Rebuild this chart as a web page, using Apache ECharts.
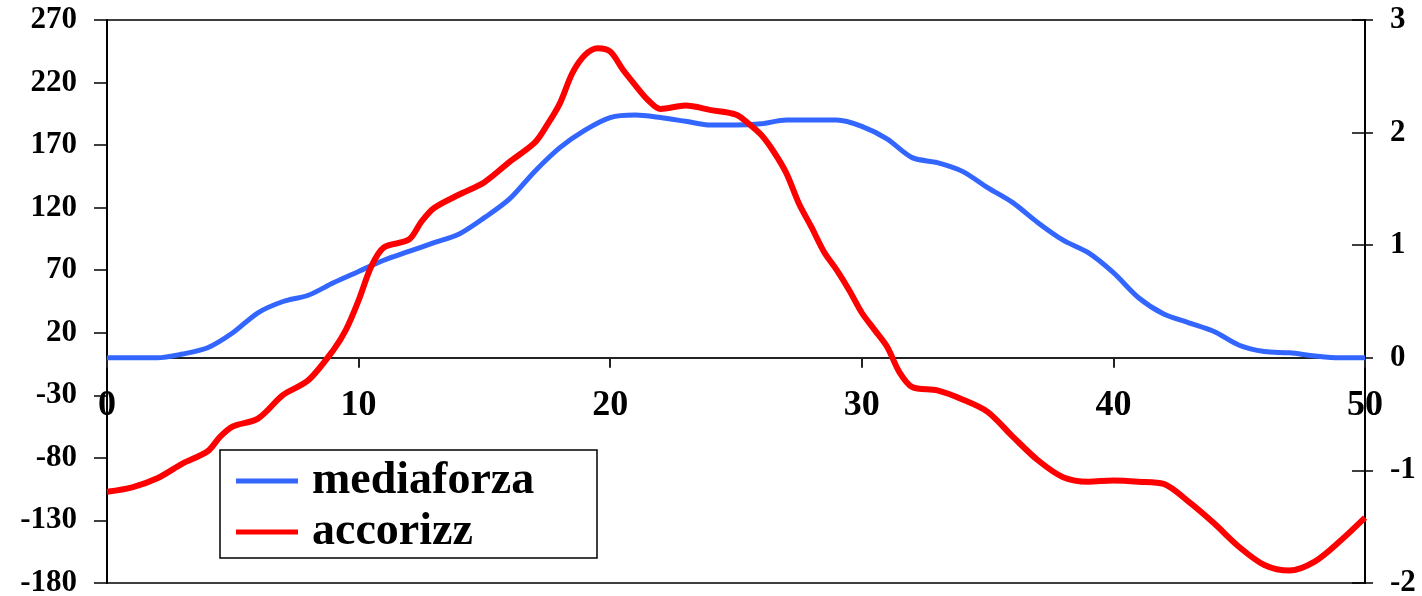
<!DOCTYPE html>
<html>
<head>
<meta charset="utf-8">
<script src="https://cdn.jsdelivr.net/npm/echarts@6/dist/echarts.min.js"></script>
<style>
  html, body { margin: 0; padding: 0; background: #fff; }
  #chart { width: 1422px; height: 596px; }
</style>
</head>
<body>
<div id="chart"></div>
<script>
// mediaforza (asse sinistro), campionato a passo 1
const blueX = [0, 1, 2, 3, 4, 5, 6, 7, 8, 9, 10, 11, 12, 13, 14, 15, 16, 17, 18, 19, 20,
  21, 22, 23, 24, 25, 26, 27, 28, 29, 30, 31, 32, 33, 34, 35, 36, 37, 38, 39, 40,
  41, 42, 43, 44, 45, 46, 47, 48, 49, 50]
const blueY = [0, 0, 0, 3, 8, 20, 36, 45, 50, 60, 69, 78, 85, 92, 99, 112, 127, 149, 168, 182, 192,
  194, 192, 189, 186, 186, 187, 190, 190, 190, 185, 175, 160, 156, 149, 136, 124, 108, 94, 84, 68,
  48, 35, 28, 21, 10, 5, 4, 1.5, 0, 0]

// accorizz (asse destro)
const redX = [0, 1, 2, 3, 4, 4.5, 5, 6, 7, 8, 9, 9.5, 10, 10.5, 11, 12, 12.5, 13, 14, 15, 16, 17, 17.5,
  18, 18.5, 19, 19.5, 20, 20.5, 21, 21.5, 22, 23, 24, 25, 25.5, 26, 26.5, 27, 27.5, 28, 28.5,
  29, 29.5, 30, 30.5, 31, 31.5, 32, 33, 34, 35, 36, 37, 38, 39, 40, 41, 42, 43, 44, 45,
  46, 47, 48, 49, 50]
const redY = [-1.19, -1.15, -1.07, -0.94, -0.83, -0.70, -0.61, -0.54, -0.33, -0.20, 0.07, 0.25, 0.51, 0.81,
  0.98, 1.05, 1.21, 1.33, 1.45, 1.56, 1.74, 1.91, 2.07,
  2.26, 2.53, 2.69, 2.75, 2.72, 2.56, 2.42, 2.29, 2.21, 2.24, 2.20, 2.16, 2.08, 1.98, 1.83, 1.64, 1.37, 1.16, 0.94,
  0.78, 0.60, 0.40, 0.25, 0.10, -0.13, -0.26, -0.29, -0.37, -0.48, -0.70, -0.91, -1.06, -1.10, -1.09, -1.10,
  -1.12, -1.28, -1.47, -1.68, -1.84, -1.89, -1.81, -1.63, -1.42]

const xTicks = [0, 50, 10]        // min, max, passo
const leftTicks = [-180, 270, 50]
const rightTicks = [-2, 3, 1]

const font = '"Liberation Serif", "Times New Roman", serif'
const lbl = { color: '#000', fontFamily: font, fontWeight: 'bold', fontSize: 31 }

const gridTop = 20, gridBottom = 13, H = 596
// l'asse X passa per lo zero dell'asse sinistro
const plotH = H - gridTop - gridBottom
const zeroOffset = -plotH * (0 - leftTicks[0]) / (leftTicks[1] - leftTicks[0])

let mychart = echarts.init(document.getElementById('chart'))
mychart.setOption({
  animation: false,
  grid: {
    left: 107, right: 57, top: gridTop, bottom: gridBottom,
    outerBoundsMode: 'none',
    containLabel: false,
    show: true,
    borderColor: '#000',
    borderWidth: 1.5
  },
  legend: {
    orient: 'vertical',
    left: 220,
    top: 450,
    icon: 'rect',
    itemWidth: 62,
    itemHeight: 5,
    itemGap: 5,
    padding: [8, 10, 3, 16],
    backgroundColor: '#fff',
    borderColor: '#000',
    borderWidth: 1.5,
    textStyle: {
      color: '#000', fontFamily: font, fontWeight: 'bold', fontSize: 46,
      lineHeight: 40, width: 275, padding: [0, 0, 0, 9]
    },
    data: ['mediaforza', 'accorizz']
  },
  xAxis: {
    type: 'value',
    position: 'bottom',
    offset: zeroOffset,
    min: xTicks[0], max: xTicks[1], interval: xTicks[2],
    axisLine: { onZero: false, lineStyle: { color: '#222', width: 2 } },
    axisTick: { show: true, length: 10, lineStyle: { color: '#222', width: 2 } },
    axisLabel: Object.assign({}, lbl, { margin: 30, fontSize: 36 }),
    splitLine: { show: false }
  },
  yAxis: [
    {
      type: 'value',
      position: 'left',
      min: leftTicks[0], max: leftTicks[1], interval: leftTicks[2],
      axisLine: { show: true, lineStyle: { color: '#000', width: 2 } },
      axisTick: { show: true, length: 13, lineStyle: { color: '#000', width: 1.5 } },
      axisLabel: Object.assign({ margin: 30 }, lbl),
      splitLine: { show: false }
    },
    {
      type: 'value',
      position: 'right',
      min: rightTicks[0], max: rightTicks[1], interval: rightTicks[2],
      axisLine: { show: true, lineStyle: { color: '#000', width: 2 } },
      axisTick: { show: true, length: 8, lineStyle: { color: '#000', width: 1.5 } },
      axisLabel: Object.assign({ margin: 25 }, lbl),
      splitLine: { show: false }
    },
    {
      // solo per le tacche interne dell'asse destro
      type: 'value',
      position: 'right',
      min: rightTicks[0], max: rightTicks[1], interval: rightTicks[2],
      axisLine: { show: false },
      axisTick: { show: true, inside: true, length: 13, lineStyle: { color: '#000', width: 1.5 } },
      axisLabel: { show: false },
      splitLine: { show: false }
    }
  ],
  series: [
    {
      name: 'mediaforza',
      type: 'line',
      yAxisIndex: 0,
      data: blueX.map((x, i) => [x, blueY[i]]),
      smooth: 0.3,
      symbol: 'none',
      lineStyle: { width: 5, color: '#3366FF' },
      itemStyle: { color: '#3366FF' },
      z: 3
    },
    {
      name: 'accorizz',
      type: 'line',
      yAxisIndex: 1,
      data: redX.map((x, i) => [x, redY[i]]),
      smooth: 0.3,
      symbol: 'none',
      lineStyle: { width: 6, color: '#FF0000' },
      itemStyle: { color: '#FF0000' },
      z: 4
    }
  ]
})
</script>
</body>
</html>
